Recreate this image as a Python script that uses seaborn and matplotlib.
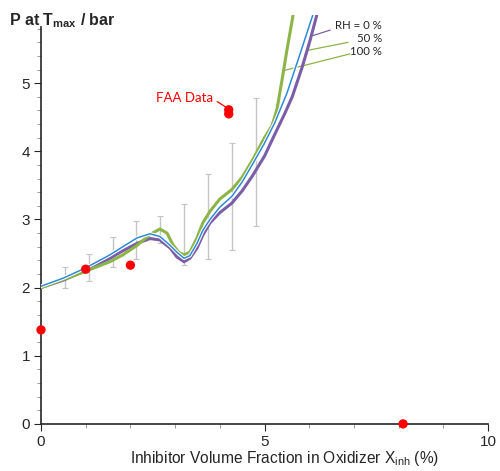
import numpy as np
import pandas as pd
import matplotlib
matplotlib.use("Agg")
import matplotlib.pyplot as plt
from matplotlib.ticker import MultipleLocator
import seaborn as sns

# model curves
x_rh0 = [0, 0.5, 1.0, 1.54, 1.83, 2.15, 2.44, 2.66, 2.89, 3.04, 3.2, 3.33, 3.49, 3.62,
         3.78, 4.0, 4.27, 4.5, 4.74, 5.0, 5.23, 5.45, 5.62, 5.84, 6.02, 6.17]
y_rh0 = [2.0, 2.11, 2.25, 2.43, 2.54, 2.65, 2.72, 2.70, 2.58, 2.45, 2.38, 2.43, 2.58, 2.77,
         2.95, 3.1, 3.24, 3.42, 3.65, 3.93, 4.25, 4.55, 4.8, 5.23, 5.63, 6.0]
x_rh50 = [0, 0.5, 1.0, 1.54, 1.83, 2.15, 2.44, 2.66, 2.89, 3.04, 3.2, 3.33, 3.49, 3.62,
          3.78, 4.0, 4.27, 4.5, 4.74, 5.0, 5.23, 5.5, 5.75, 5.97, 6.08]
y_rh50 = [2.02, 2.14, 2.29, 2.48, 2.60, 2.73, 2.79, 2.75, 2.62, 2.52, 2.43, 2.47, 2.65, 2.84,
          3.0, 3.18, 3.34, 3.55, 3.82, 4.12, 4.42, 4.85, 5.34, 5.78, 6.0]
x_rh100 = [0, 0.5, 1.0, 1.54, 1.83, 2.15, 2.44, 2.66, 2.82, 2.95, 3.08, 3.2, 3.33, 3.49,
           3.62, 3.78, 4.0, 4.27, 4.5, 4.74, 5.0, 5.17, 5.28, 5.39, 5.5, 5.64]
y_rh100 = [2.0, 2.12, 2.24, 2.38, 2.48, 2.62, 2.78, 2.86, 2.80, 2.63, 2.52, 2.48, 2.52, 2.73,
           2.95, 3.12, 3.3, 3.44, 3.62, 3.88, 4.2, 4.38, 4.62, 5.04, 5.48, 6.0]

# FAA test data
faa_x = [0, 1.0, 2.0, 4.2, 4.2, 8.1]
faa_y = [1.38, 2.27, 2.33, 4.61, 4.55, 0]

# scatter bars
bar_x = [0.53, 1.07, 1.6, 2.13, 2.67, 3.2, 3.73, 4.27, 4.8]
bar_lo = [1.99, 2.10, 2.30, 2.42, 2.65, 2.33, 2.42, 2.55, 2.90]
bar_hi = [2.30, 2.49, 2.74, 2.98, 3.05, 3.23, 3.67, 4.12, 4.79]

purple = "#7b5ea7"
blue = "#2e8ad8"
green = "#8db447"

sns.set_style("ticks")
plt.rcParams["font.family"] = ["Liberation Sans", "DejaVu Sans"]

fig = plt.figure(figsize=(5.0, 4.71), dpi=100)
ax = fig.add_axes([0.082, 0.1, 0.894, 0.868])

mid = [(a + b) / 2 for a, b in zip(bar_lo, bar_hi)]
half = [(b - a) / 2 for a, b in zip(bar_lo, bar_hi)]
ax.errorbar(bar_x, mid, yerr=half, fmt="none", ecolor="#c4c4c4", elinewidth=1.0,
            capsize=2.5, capthick=0.8, zorder=1)

line_kw = dict(sort=False, estimator=None, ax=ax)
sns.lineplot(x=x_rh0, y=y_rh0, color=purple, lw=2.2, zorder=3, **line_kw)
sns.lineplot(x=x_rh100, y=y_rh100, color=green, lw=2.2, zorder=3, **line_kw)
sns.lineplot(x=x_rh50, y=y_rh50, color="white", lw=2.6, zorder=4, **line_kw)
sns.lineplot(x=x_rh50, y=y_rh50, color=blue, lw=1.1, zorder=5, **line_kw)
for l in ax.lines:
    l.set_solid_joinstyle("round")

sns.scatterplot(x=faa_x, y=faa_y, color="#ff0000", s=45, edgecolor="none", ax=ax,
                zorder=6, clip_on=False)

ax.set_xlim(0, 10)
ax.set_ylim(0, 6)
ax.xaxis.set_major_locator(MultipleLocator(5))
ax.xaxis.set_minor_locator(MultipleLocator(1))
ax.set_yticks([0, 1, 2, 3, 4, 5])
ax.set_yticks(np.arange(0.2, 5.81, 0.2), minor=True)
ax.tick_params(which="major", length=5, width=0.8, labelsize=11, pad=3)
ax.tick_params(which="minor", length=3, width=0.6, color="#888888")
sns.despine(ax=ax)
ax.spines["left"].set_bounds(0, 5.82)
ax.spines["left"].set_linewidth(1.2)
ax.spines["bottom"].set_linewidth(1.2)

ax.set_xlabel("Inhibitor Volume Fraction in Oxidizer X$_{\\mathregular{inh}}$ (%)", fontsize=11.2)
ax.xaxis.set_label_coords(0.545, -0.062)
ax.set_ylabel("")
fig.text(0.018, 0.975, "P at T$_{\\mathregular{max}}$ / bar", fontsize=11.5, fontweight="bold",
         ha="left", va="top")

# leader labels
ax.text(7.63, 5.85, "RH = 0 %", ha="right", va="center", family=["Lato", "DejaVu Sans"], fontsize=8.2)
ax.text(7.63, 5.65, "50 %", ha="right", va="center", family=["Lato", "DejaVu Sans"], fontsize=8.2)
ax.text(7.63, 5.47, "100 %", ha="right", va="center", family=["Lato", "DejaVu Sans"], fontsize=8.2)
ax.plot([6.09, 6.47], [5.7, 5.78], color=purple, lw=0.9)
ax.plot([5.95, 6.87], [5.48, 5.6], color=green, lw=0.9)
ax.plot([5.46, 6.91], [5.19, 5.43], color=green, lw=0.9)

ax.text(3.22, 4.78, "FAA Data", color="#ff0000", ha="center", va="center",
        family=["Lato", "DejaVu Sans"], fontsize=9.5)
ax.plot([3.94, 4.16], [4.73, 4.64], color="#ff0000", lw=0.9)

fig.savefig("out.png", dpi=100)
